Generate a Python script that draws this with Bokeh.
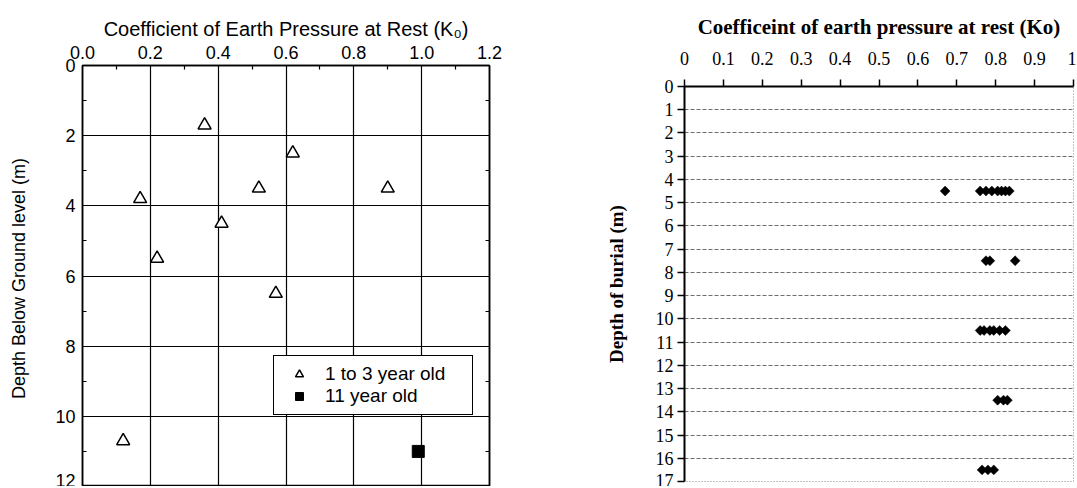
import numpy as np
from bokeh.plotting import figure
from bokeh.models import FixedTicker, LinearAxis, Range1d, Legend, LegendItem
from bokeh.layouts import row, column
from bokeh.embed import file_html
from bokeh.resources import INLINE

# ---------------- data: left chart ----------------
tri_k0 = [0.36, 0.62, 0.52, 0.90, 0.17, 0.41, 0.22, 0.57, 0.12]
tri_depth = [1.7, 2.5, 3.5, 3.5, 3.8, 4.5, 5.5, 6.5, 10.7]
sq_k0 = [0.99]
sq_depth = [11.0]
left_x_ticks = [0.0, 0.2, 0.4, 0.6, 0.8, 1.0, 1.2]
left_x_labels = ["0.0", "0.2", "0.4", "0.6", "0.8", "1.0", "1.2"]
left_y_ticks = [0, 2, 4, 6, 8, 10, 12]
left_y_labels = ["0", "2", "4", "6", "8", "10", "12"]

# ---------------- data: right chart ----------------
row_depths = [4.5, 7.5, 10.5, 13.5, 16.5]
ko_at_4_5 = [0.67, 0.76, 0.775, 0.79, 0.805, 0.815, 0.825, 0.835]
ko_at_7_5 = [0.775, 0.785, 0.85]
ko_at_10_5 = [0.76, 0.77, 0.785, 0.795, 0.81, 0.825]
ko_at_13_5 = [0.805, 0.82, 0.83]
ko_at_16_5 = [0.765, 0.78, 0.795]
right_x_ticks = [0, 0.1, 0.2, 0.3, 0.4, 0.5, 0.6, 0.7, 0.8, 0.9, 1]
right_x_labels = ["0", "0.1", "0.2", "0.3", "0.4", "0.5", "0.6", "0.7", "0.8", "0.9", "1"]
right_y_ticks = list(range(0, 18))

SANS = "Liberation Sans"
SERIF = "Liberation Serif"

# ================= left figure =================
p1 = figure(width=602, height=486, x_range=Range1d(0, 1.2), y_range=Range1d(12, 0),
            x_axis_location="above", output_backend="svg", toolbar_location=None,
            min_border_left=82, min_border_right=113, min_border_top=65, min_border_bottom=0)
p1.background_fill_color = "white"
p1.border_fill_color = "white"
p1.outline_line_color = "black"
p1.outline_line_width = 1.5
p1.outline_line_alpha = 1

lx = np.array(left_x_ticks)
ly = np.array(left_y_ticks)
x_minor = list((lx[:-1] + lx[1:]) / 2)
y_minor = list((ly[:-1] + ly[1:]) / 2)
xt = FixedTicker(ticks=left_x_ticks, minor_ticks=x_minor)
yt = FixedTicker(ticks=left_y_ticks, minor_ticks=y_minor)

ax = p1.xaxis[0]
ax.ticker = xt
ax.major_label_overrides = dict(zip(left_x_ticks, left_x_labels))
ax.axis_label = "Coefficient of Earth Pressure at Rest (K\u2080)"
ay = p1.yaxis[0]
ay.ticker = yt
ay.major_label_overrides = dict(zip(left_y_ticks, left_y_labels))
ay.axis_label = "Depth  Below Ground level (m)"

for a in (ax, ay):
    a.axis_line_color = "black"
    a.axis_line_width = 1.5
    a.major_tick_in = 0
    a.major_tick_out = 0
    a.minor_tick_in = 4
    a.minor_tick_out = 0
    a.minor_tick_line_color = "black"
    a.minor_tick_line_width = 1.2
    a.major_label_text_font = SANS
    a.major_label_text_font_size = "18px"
    a.major_label_text_color = "black"
    a.axis_label_text_font = SANS
    a.axis_label_text_font_style = "normal"
    a.axis_label_text_color = "black"
ax.major_label_standoff = 7
ax.axis_label_text_font_size = "20px"
ax.axis_label_standoff = 3
ay.major_label_standoff = 7
ay.axis_label_text_font_size = "18px"
ay.axis_label_standoff = 23

ar = LinearAxis(ticker=FixedTicker(ticks=[], minor_ticks=y_minor),
                major_tick_in=0, major_tick_out=0,
                minor_tick_in=4, minor_tick_out=0, minor_tick_line_color="black",
                minor_tick_line_width=1.2, axis_line_color="black", axis_line_width=1.5)
p1.add_layout(ar, "right")

for g in (p1.xgrid[0], p1.ygrid[0]):
    g.grid_line_color = "black"
    g.grid_line_width = 1.2
    g.grid_line_alpha = 1

r_tri = p1.scatter(tri_k0, tri_depth, marker="triangle", size=13, fill_color="white",
                   line_color="black", line_width=1.5)
r_sq = p1.scatter(sq_k0, sq_depth, marker="square", size=12, fill_color="black",
                  line_color="black")

legend = Legend(items=[LegendItem(label="1 to 3 year old", renderers=[r_tri]),
                       LegendItem(label="11 year old", renderers=[r_sq])],
                location=(191, 71))
legend.padding = 7
legend.margin = 0
legend.spacing = 0
legend.label_standoff = 8
legend.glyph_width = 36
legend.glyph_height = 20
legend.label_height = 20
legend.label_width = 140
legend.label_text_font = SANS
legend.label_text_font_size = "19px"
legend.label_text_color = "black"
legend.border_line_color = "black"
legend.border_line_width = 1.5
legend.border_line_alpha = 1
legend.background_fill_color = "white"
legend.background_fill_alpha = 1
p1.add_layout(legend)

# ================= right figure =================
p2 = figure(width=474, height=486, x_range=Range1d(0, 1), y_range=Range1d(17, 0),
            x_axis_location="above", output_backend="svg", toolbar_location=None,
            min_border_left=82, min_border_right=3, min_border_top=86, min_border_bottom=5)
p2.background_fill_color = "white"
p2.border_fill_color = "white"
p2.outline_line_color = "#888888"
p2.outline_line_dash = "1 2"
p2.outline_line_width = 1

bx = p2.xaxis[0]
bx.ticker = FixedTicker(ticks=right_x_ticks, minor_ticks=[])
bx.major_label_overrides = dict(zip(right_x_ticks, right_x_labels))
bx.axis_label = "Coefficeint of earth pressure at rest (Ko)"
by = p2.yaxis[0]
by.ticker = FixedTicker(ticks=right_y_ticks, minor_ticks=[])
by.axis_label = "Depth of burial (m)"
for a in (bx, by):
    a.axis_line_color = "black"
    a.axis_line_width = 2
    a.major_tick_in = 0
    a.major_tick_out = 7
    a.major_tick_line_color = "black"
    a.major_tick_line_width = 1.5
    a.minor_tick_line_color = None
    a.major_label_text_font = SERIF
    a.major_label_text_font_size = "18px"
    a.major_label_text_color = "black"
    a.axis_label_text_font = SERIF
    a.axis_label_text_font_style = "bold"
    a.axis_label_text_color = "black"
bx.major_label_standoff = 15
bx.axis_label_text_font_size = "21px"
bx.axis_label_standoff = 10
by.major_label_standoff = 4
by.axis_label_text_font_size = "19px"
by.axis_label_standoff = 26

p2.xgrid.visible = False
p2.ygrid[0].grid_line_color = "#555555"
p2.ygrid[0].grid_line_dash = "4 2"
p2.ygrid[0].grid_line_width = 1
p2.ygrid[0].grid_line_alpha = 0.85

ko_rows = [ko_at_4_5, ko_at_7_5, ko_at_10_5, ko_at_13_5, ko_at_16_5]
rx, ry = [], []
for d, vals in zip(row_depths, ko_rows):
    rx.extend(vals)
    ry.extend([d] * len(vals))
p2.scatter(rx, ry, marker="square", angle=np.pi / 4, size=7,
           fill_color="black", line_color="black", line_width=0.5)

layout = row(column(p1), column(p2))
open("out.html", "w").write(file_html(layout, INLINE))
